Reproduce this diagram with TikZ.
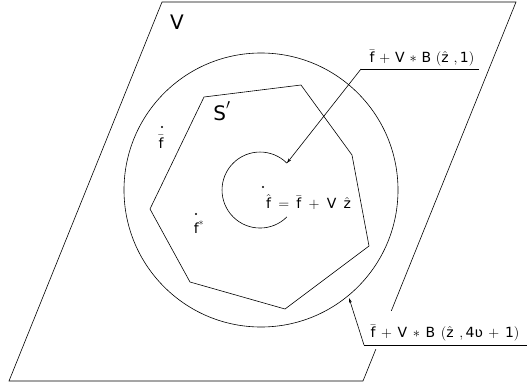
\documentclass[tikz,border=0pt]{standalone}
\usepackage{fontspec}
\setmainfont{DejaVu Sans}
\setsansfont{DejaVu Sans}
\usetikzlibrary{arrows.meta}
\newcommand\kgap{\mskip 6mu}
\newcommand\kgapb{\mskip 7mu}
\newcommand\kgapc{\mskip 9mu}
\newcommand\sfl[1]{\mathsf{#1}}
\tikzset{
  thin line/.style={line width=0.6pt, black},
  lbl/.style={font=\fontsize{14}{16}\selectfont, inner sep=0pt},
  biglbl/.style={font=\fontsize{20}{22}\selectfont, inner sep=0pt},
  leader/.style={thin line, -{Stealth[length=5pt,width=3pt]}}
}
\begin{document}
\begin{tikzpicture}[x=1pt,y=-1pt]
\useasboundingbox (0,0) rectangle (527,383);
% plane V
\coordinate (p1) at (162,2);
\coordinate (p2) at (516,2);
\coordinate (p3) at (363,381);
\coordinate (p4) at (9,381);
\draw[thin line] (p1) -- (p2) -- (p3) -- (p4) -- cycle;
\node[biglbl] (V) at (177,22) {$\sfl{V}$};
% large circle
\coordinate (c) at (261,190);
\draw[thin line] (c) circle (137);
% polygon S'
\draw[thin line] (204,97) -- (301,85) -- (352,155) -- (369,246) -- (285,309) -- (190,282) -- (150,209) -- cycle;
\node[biglbl] (S) at (222,111) {$\sfl{S}'$};
% small arc
\coordinate (c2) at (260,190);
\draw[thin line] (286.9,216.9) arc[start angle=45, end angle=315, radius=38];
\coordinate (tip1) at (286.9,163.1);
% points
\fill (162,127) circle (1.2);
\node[lbl] (fbar) at (161,142) {$\bar{\sfl{f}}$};
\fill (196,214) circle (1.2);
\node[lbl] (fstar) at (199,227) {$\sfl{f}^{\ast}$};
\fill (263,187) circle (1.2);
\node[lbl, anchor=west] (feq) at (266,202) {$\hat{\sfl{f}}\kgapc{=}\kgapc\bar{\sfl{f}}\kgapc{+}\kgapc\sfl{V}\kgapc\hat{\sfl{z}}$};
% top label
\node[lbl] (lab1) at (422,58) {$\bar{\sfl{f}}\kgap{+}\kgap\sfl{V}\kgap{\ast}\kgap\sfl{B}\kgap(\hat{\sfl{z}}\kgap,\sfl{1})$};
\coordinate (u1a) at (361,69);
\coordinate (u1b) at (479,69);
\draw[thin line] (u1b) -- (u1a);
\draw[leader] (u1a) -- (tip1);
% bottom label
\node[fill=white, inner sep=0pt, anchor=north west, minimum width=163, minimum height=38] (lab2) at (366,311) {};
\node[lbl] (lab2t) at (445,333) {$\bar{\sfl{f}}\kgapb{+}\kgapb\sfl{V}\kgapb{\ast}\kgapb\sfl{B}\kgapb(\hat{\sfl{z}}\kgapb,\sfl{4}\mbox{ʋ}\kgapb{+}\kgapb\sfl{1})$};
\coordinate (u2a) at (364,345);
\coordinate (u2b) at (527,345);
\coordinate (tip2) at (349,298);
\draw[thin line] (u2b) -- (u2a);
\draw[leader] (u2a) -- (tip2);
\end{tikzpicture}
\end{document}
